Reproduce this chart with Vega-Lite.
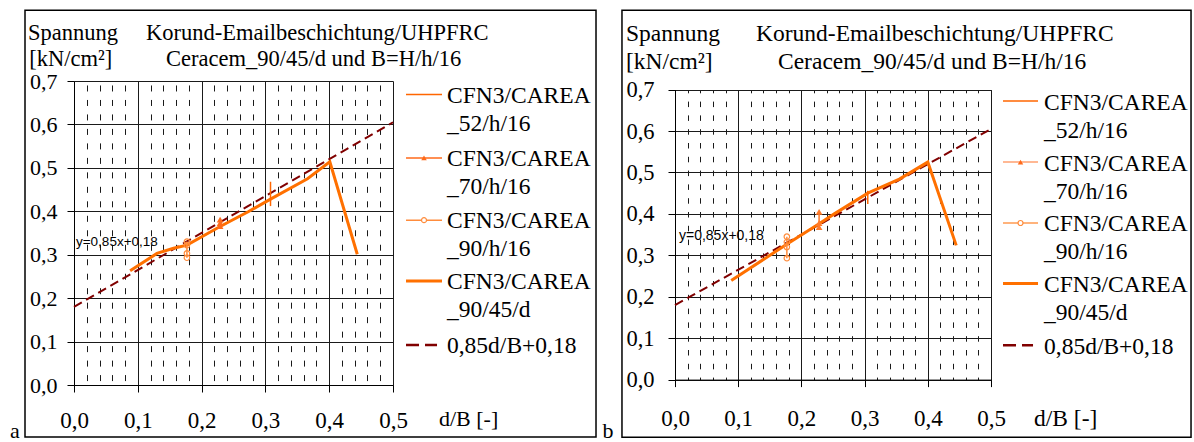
{
  "$schema": "https://vega.github.io/schema/vega-lite/v6.json",
  "background": "white",
  "padding": {"left": 10, "top": 9, "right": 2, "bottom": 0},
  "spacing": 5,
  "config": {
    "view": {"stroke": null},
    "font": "Liberation Serif",
    "style": {"guide-label": {"font": "Liberation Serif"}},
    "axis": {"labelFont": "Liberation Serif", "labelFontSize": 23, "labelColor": "#000", "domainColor": "#000", "domainWidth": 1, "tickColor": "#000", "tickWidth": 1, "tickSize": 7, "gridColor": "#1a1a1a", "gridOpacity": 1, "gridWidth": 1, "labelFlush": false, "labelOverlap": false, "title": null}
  },
  "datasets": {
    "a": [
      {"series": "0,85d/B+0,18", "x": 0, "y": 0.18},
      {"series": "0,85d/B+0,18", "x": 0.5, "y": 0.605},
      {"series": "CFN3/CAREA_90/45/d", "x": 0.088, "y": 0.263},
      {"series": "CFN3/CAREA_90/45/d", "x": 0.13, "y": 0.303},
      {"series": "CFN3/CAREA_90/45/d", "x": 0.156, "y": 0.315},
      {"series": "CFN3/CAREA_90/45/d", "x": 0.177, "y": 0.322},
      {"series": "CFN3/CAREA_90/45/d", "x": 0.229, "y": 0.365},
      {"series": "CFN3/CAREA_90/45/d", "x": 0.273, "y": 0.399},
      {"series": "CFN3/CAREA_90/45/d", "x": 0.308, "y": 0.428},
      {"series": "CFN3/CAREA_90/45/d", "x": 0.366, "y": 0.475},
      {"series": "CFN3/CAREA_90/45/d", "x": 0.401, "y": 0.514},
      {"series": "CFN3/CAREA_90/45/d", "x": 0.444, "y": 0.301},
      {"series": "CFN3/CAREA_52/h/16", "x": 0.308, "y": 0.468},
      {"series": "CFN3/CAREA_52/h/16", "x": 0.308, "y": 0.44},
      {"series": "CFN3/CAREA_52/h/16", "x": 0.308, "y": 0.412},
      {"series": "CFN3/CAREA_70/h/16", "x": 0.229, "y": 0.381},
      {"series": "CFN3/CAREA_70/h/16", "x": 0.229, "y": 0.373},
      {"series": "CFN3/CAREA_70/h/16", "x": 0.229, "y": 0.366},
      {"series": "CFN3/CAREA_90/h/16", "x": 0.177, "y": 0.33},
      {"series": "CFN3/CAREA_90/h/16", "x": 0.177, "y": 0.322},
      {"series": "CFN3/CAREA_90/h/16", "x": 0.177, "y": 0.303},
      {"series": "CFN3/CAREA_90/h/16", "x": 0.177, "y": 0.293}
    ],
    "b": [
      {"series": "0,85d/B+0,18", "x": 0, "y": 0.18},
      {"series": "0,85d/B+0,18", "x": 0.5, "y": 0.605},
      {"series": "CFN3/CAREA_90/45/d", "x": 0.089, "y": 0.239},
      {"series": "CFN3/CAREA_90/45/d", "x": 0.178, "y": 0.328},
      {"series": "CFN3/CAREA_90/45/d", "x": 0.228, "y": 0.376},
      {"series": "CFN3/CAREA_90/45/d", "x": 0.252, "y": 0.4},
      {"series": "CFN3/CAREA_90/45/d", "x": 0.305, "y": 0.45},
      {"series": "CFN3/CAREA_90/45/d", "x": 0.355, "y": 0.484},
      {"series": "CFN3/CAREA_90/45/d", "x": 0.4, "y": 0.525},
      {"series": "CFN3/CAREA_90/45/d", "x": 0.445, "y": 0.324},
      {"series": "CFN3/CAREA_52/h/16", "x": 0.305, "y": 0.456},
      {"series": "CFN3/CAREA_52/h/16", "x": 0.305, "y": 0.44},
      {"series": "CFN3/CAREA_52/h/16", "x": 0.305, "y": 0.424},
      {"series": "CFN3/CAREA_70/h/16", "x": 0.228, "y": 0.405},
      {"series": "CFN3/CAREA_70/h/16", "x": 0.228, "y": 0.378},
      {"series": "CFN3/CAREA_70/h/16", "x": 0.228, "y": 0.368},
      {"series": "CFN3/CAREA_90/h/16", "x": 0.177, "y": 0.345},
      {"series": "CFN3/CAREA_90/h/16", "x": 0.177, "y": 0.332},
      {"series": "CFN3/CAREA_90/h/16", "x": 0.177, "y": 0.32},
      {"series": "CFN3/CAREA_90/h/16", "x": 0.177, "y": 0.293}
    ]
  },
  "hconcat": [
    {
      "width": 319,
      "height": 304,
      "data": {"name": "a"},
      "resolve": {"axis": {"x": "independent", "y": "independent"}},
      "layer": [
        {
          "transform": [{"filter": "datum.series == '0,85d/B+0,18'"}],
          "mark": {"type": "line", "color": "#800000", "strokeWidth": 2, "strokeDash": [9, 5]},
          "encoding": {
            "x": {"field": "x", "type": "quantitative", "scale": {"domain": [0, 0.5], "nice": false, "zero": false},
              "axis": {"orient": "bottom", "title": null, "labelFont": "Liberation Serif", "values": [0,0.02,0.04,0.06,0.08,0.1,0.12,0.14,0.16,0.18,0.2,0.22,0.24,0.26,0.28,0.3,0.32,0.34,0.36,0.38,0.4,0.42,0.44,0.46,0.48,0.5],
                "labelPadding": 28, "labelBaseline": "middle",
                "labelExpr": "abs(datum.value*10-round(datum.value*10))<0.001 ? replace(format(datum.value,'.1f'),'.',',') : ''",
                "gridDash": {"condition": {"test": "abs(datum.value*10-round(datum.value*10))<0.001", "value": []}, "value": [6, 8.48]},
                "gridDashOffset": 10.5,
                "tickOpacity": {"condition": {"test": "abs(datum.value*10-round(datum.value*10))<0.001", "value": 1}, "value": 0}}},
            "y": {"field": "y", "type": "quantitative", "scale": {"domain": [0, 0.7], "nice": false, "zero": false},
              "axis": {"orient": "left", "title": null, "labelFont": "Liberation Serif", "labelFontSize": 22, "values": [0,0.1,0.2,0.3,0.4,0.5,0.6,0.7], "labelPadding": 10, "labelExpr": "replace(format(datum.value,'.1f'),'.',',')"}},
            "order": {"value": null}
          }
        },
        {
          "transform": [{"filter": "datum.series == 'CFN3/CAREA_90/45/d'"}],
          "mark": {"type": "line", "color": "#FF7000", "strokeWidth": 3},
          "encoding": {
            "x": {"field": "x", "type": "quantitative", "scale": {"domain": [0, 0.5], "nice": false, "zero": false}, "axis": null},
            "y": {"field": "y", "type": "quantitative", "scale": {"domain": [0, 0.7], "nice": false, "zero": false}, "axis": null},
            "order": {"value": null}
          }
        },
        {
          "transform": [{"filter": "datum.series == 'CFN3/CAREA_52/h/16'"}],
          "mark": {"type": "line", "color": "#FF6600", "strokeWidth": 1.5},
          "encoding": {
            "x": {"field": "x", "type": "quantitative", "scale": {"domain": [0, 0.5], "nice": false, "zero": false}, "axis": null},
            "y": {"field": "y", "type": "quantitative", "scale": {"domain": [0, 0.7], "nice": false, "zero": false}, "axis": null},
            "order": {"value": null}
          }
        },
        {
          "transform": [{"filter": "datum.series == 'CFN3/CAREA_70/h/16'"}],
          "mark": {"type": "line", "color": "#FF6A1A", "strokeWidth": 1.5, "point": {"shape": "triangle-up", "filled": true, "size": 45, "color": "#FF6A1A"}},
          "encoding": {
            "x": {"field": "x", "type": "quantitative", "scale": {"domain": [0, 0.5], "nice": false, "zero": false}, "axis": null},
            "y": {"field": "y", "type": "quantitative", "scale": {"domain": [0, 0.7], "nice": false, "zero": false}, "axis": null},
            "order": {"value": null}
          }
        },
        {
          "transform": [{"filter": "datum.series == 'CFN3/CAREA_90/h/16'"}],
          "mark": {"type": "line", "color": "#FF8C3C", "strokeWidth": 1.5, "point": {"shape": "circle", "filled": false, "size": 30, "color": "#FF8C3C", "strokeWidth": 1.2}},
          "encoding": {
            "x": {"field": "x", "type": "quantitative", "scale": {"domain": [0, 0.5], "nice": false, "zero": false}, "axis": null},
            "y": {"field": "y", "type": "quantitative", "scale": {"domain": [0, 0.7], "nice": false, "zero": false}, "axis": null},
            "order": {"value": null}
          }
        },
        {
          "data": {"values": [{}]},
          "mark": {"type": "rect", "fillOpacity": 0, "stroke": "#000", "strokeWidth": 1.5},
          "encoding": {
            "x": {"datum": -0.0768, "type": "quantitative", "scale": {"domain": [0, 0.5], "nice": false, "zero": false}, "axis": null},
            "x2": {"datum": 0.8182},
            "y": {"datum": -0.1196, "type": "quantitative", "scale": {"domain": [0, 0.7], "nice": false, "zero": false}, "axis": null},
            "y2": {"datum": 0.8627}
          }
        },
        {
          "data": {"values": [{}]},
          "mark": {"type": "text", "align": "left", "baseline": "alphabetic", "font": "Liberation Sans", "fontSize": 13.5, "color": "#000"},
          "encoding": {
            "x": {"datum": 0.0031, "type": "quantitative", "scale": {"domain": [0, 0.5], "nice": false, "zero": false}, "axis": null},
            "y": {"datum": 0.3198, "type": "quantitative", "scale": {"domain": [0, 0.7], "nice": false, "zero": false}, "axis": null},
            "text": {"value": "y=0,85x+0,18"}
          }
        },
        {
          "data": {"values": [{}]},
          "mark": {"type": "text", "align": "left", "baseline": "alphabetic", "fontSize": 22.5, "color": "#000"},
          "encoding": {
            "x": {"datum": -0.0721, "type": "quantitative", "scale": {"domain": [0, 0.5], "nice": false, "zero": false}, "axis": null},
            "y": {"datum": 0.7937, "type": "quantitative", "scale": {"domain": [0, 0.7], "nice": false, "zero": false}, "axis": null},
            "text": {"value": "Spannung"}
          }
        },
        {
          "data": {"values": [{}]},
          "mark": {"type": "text", "align": "left", "baseline": "alphabetic", "fontSize": 22.5, "color": "#000"},
          "encoding": {
            "x": {"datum": -0.07, "type": "quantitative", "scale": {"domain": [0, 0.5], "nice": false, "zero": false}, "axis": null},
            "y": {"datum": 0.735, "type": "quantitative", "scale": {"domain": [0, 0.7], "nice": false, "zero": false}, "axis": null},
            "text": {"value": "[kN/cm²]"}
          }
        },
        {
          "data": {"values": [{}]},
          "mark": {"type": "text", "align": "left", "baseline": "alphabetic", "fontSize": 22.5, "color": "#000"},
          "encoding": {
            "x": {"datum": 0.1129, "type": "quantitative", "scale": {"domain": [0, 0.5], "nice": false, "zero": false}, "axis": null},
            "y": {"datum": 0.7937, "type": "quantitative", "scale": {"domain": [0, 0.7], "nice": false, "zero": false}, "axis": null},
            "text": {"value": "Korund-Emailbeschichtung/UHPFRC"}
          }
        },
        {
          "data": {"values": [{}]},
          "mark": {"type": "text", "align": "left", "baseline": "alphabetic", "fontSize": 22.5, "color": "#000"},
          "encoding": {
            "x": {"datum": 0.1442, "type": "quantitative", "scale": {"domain": [0, 0.5], "nice": false, "zero": false}, "axis": null},
            "y": {"datum": 0.735, "type": "quantitative", "scale": {"domain": [0, 0.7], "nice": false, "zero": false}, "axis": null},
            "text": {"value": "Ceracem_90/45/d und B=H/h/16"}
          }
        },
        {
          "data": {"values": [{}]},
          "mark": {"type": "text", "align": "left", "baseline": "alphabetic", "fontSize": 22, "color": "#000"},
          "encoding": {
            "x": {"datum": 0.5721, "type": "quantitative", "scale": {"domain": [0, 0.5], "nice": false, "zero": false}, "axis": null},
            "y": {"datum": -0.0955, "type": "quantitative", "scale": {"domain": [0, 0.7], "nice": false, "zero": false}, "axis": null},
            "text": {"value": "d/B [-]"}
          }
        },
        {
          "data": {"values": [{}]},
          "mark": {"type": "text", "align": "center", "baseline": "alphabetic", "fontSize": 22, "color": "#000"},
          "encoding": {
            "x": {"datum": -0.0925, "type": "quantitative", "scale": {"domain": [0, 0.5], "nice": false, "zero": false}, "axis": null},
            "y": {"datum": -0.122, "type": "quantitative", "scale": {"domain": [0, 0.7], "nice": false, "zero": false}, "axis": null},
            "text": {"value": "a"}
          }
        },
        {
          "data": {"values": [{}]},
          "mark": {"type": "rule", "color": "#FF6600", "strokeWidth": 1.5},
          "encoding": {
            "x": {"datum": 0.5204, "type": "quantitative", "scale": {"domain": [0, 0.5], "nice": false, "zero": false}, "axis": null},
            "x2": {"datum": 0.5768},
            "y": {"datum": 0.6687, "type": "quantitative", "scale": {"domain": [0, 0.7], "nice": false, "zero": false}, "axis": null}
          }
        },
        {
          "data": {"values": [{}]},
          "mark": {"type": "rule", "color": "#FF6A1A", "strokeWidth": 1.5},
          "encoding": {
            "x": {"datum": 0.5204, "type": "quantitative", "scale": {"domain": [0, 0.5], "nice": false, "zero": false}, "axis": null},
            "x2": {"datum": 0.5768},
            "y": {"datum": 0.5229, "type": "quantitative", "scale": {"domain": [0, 0.7], "nice": false, "zero": false}, "axis": null}
          }
        },
        {
          "data": {"values": [{}]},
          "mark": {"type": "point", "shape": "triangle-up", "filled": true, "size": 30, "color": "#FF6A1A", "opacity": 1},
          "encoding": {
            "x": {"datum": 0.5486, "type": "quantitative", "scale": {"domain": [0, 0.5], "nice": false, "zero": false}, "axis": null},
            "y": {"datum": 0.5229, "type": "quantitative", "scale": {"domain": [0, 0.7], "nice": false, "zero": false}, "axis": null}
          }
        },
        {
          "data": {"values": [{}]},
          "mark": {"type": "rule", "color": "#FF8C3C", "strokeWidth": 1.5},
          "encoding": {
            "x": {"datum": 0.5204, "type": "quantitative", "scale": {"domain": [0, 0.5], "nice": false, "zero": false}, "axis": null},
            "x2": {"datum": 0.5768},
            "y": {"datum": 0.3796, "type": "quantitative", "scale": {"domain": [0, 0.7], "nice": false, "zero": false}, "axis": null}
          }
        },
        {
          "data": {"values": [{}]},
          "mark": {"type": "point", "shape": "circle", "filled": true, "fill": "#fff", "stroke": "#FF8C3C", "strokeWidth": 1.2, "size": 25, "opacity": 1},
          "encoding": {
            "x": {"datum": 0.5486, "type": "quantitative", "scale": {"domain": [0, 0.5], "nice": false, "zero": false}, "axis": null},
            "y": {"datum": 0.3796, "type": "quantitative", "scale": {"domain": [0, 0.7], "nice": false, "zero": false}, "axis": null}
          }
        },
        {
          "data": {"values": [{}]},
          "mark": {"type": "rule", "color": "#FF7000", "strokeWidth": 3},
          "encoding": {
            "x": {"datum": 0.5204, "type": "quantitative", "scale": {"domain": [0, 0.5], "nice": false, "zero": false}, "axis": null},
            "x2": {"datum": 0.5768},
            "y": {"datum": 0.2392, "type": "quantitative", "scale": {"domain": [0, 0.7], "nice": false, "zero": false}, "axis": null}
          }
        },
        {
          "data": {"values": [{}]},
          "mark": {"type": "rule", "color": "#800000", "strokeWidth": 2.5, "strokeDash": [13, 6]},
          "encoding": {
            "x": {"datum": 0.5204, "type": "quantitative", "scale": {"domain": [0, 0.5], "nice": false, "zero": false}, "axis": null},
            "x2": {"datum": 0.569},
            "y": {"datum": 0.092, "type": "quantitative", "scale": {"domain": [0, 0.7], "nice": false, "zero": false}, "axis": null}
          }
        },
        {
          "data": {"values": [{}]},
          "mark": {"type": "text", "align": "left", "baseline": "alphabetic", "fontSize": 23.5, "lineHeight": 28, "color": "#000"},
          "encoding": {
            "x": {"datum": 0.5846, "type": "quantitative", "scale": {"domain": [0, 0.5], "nice": false, "zero": false}, "axis": null},
            "y": {"datum": 0.6503, "type": "quantitative", "scale": {"domain": [0, 0.7], "nice": false, "zero": false}, "axis": null},
            "text": {"value": ["CFN3/CAREA", "_52/h/16"]}
          }
        },
        {
          "data": {"values": [{}]},
          "mark": {"type": "text", "align": "left", "baseline": "alphabetic", "fontSize": 23.5, "lineHeight": 28, "color": "#000"},
          "encoding": {
            "x": {"datum": 0.5846, "type": "quantitative", "scale": {"domain": [0, 0.5], "nice": false, "zero": false}, "axis": null},
            "y": {"datum": 0.5045, "type": "quantitative", "scale": {"domain": [0, 0.7], "nice": false, "zero": false}, "axis": null},
            "text": {"value": ["CFN3/CAREA", "_70/h/16"]}
          }
        },
        {
          "data": {"values": [{}]},
          "mark": {"type": "text", "align": "left", "baseline": "alphabetic", "fontSize": 23.5, "lineHeight": 28, "color": "#000"},
          "encoding": {
            "x": {"datum": 0.5846, "type": "quantitative", "scale": {"domain": [0, 0.5], "nice": false, "zero": false}, "axis": null},
            "y": {"datum": 0.3612, "type": "quantitative", "scale": {"domain": [0, 0.7], "nice": false, "zero": false}, "axis": null},
            "text": {"value": ["CFN3/CAREA", "_90/h/16"]}
          }
        },
        {
          "data": {"values": [{}]},
          "mark": {"type": "text", "align": "left", "baseline": "alphabetic", "fontSize": 23.5, "lineHeight": 28, "color": "#000"},
          "encoding": {
            "x": {"datum": 0.5846, "type": "quantitative", "scale": {"domain": [0, 0.5], "nice": false, "zero": false}, "axis": null},
            "y": {"datum": 0.2208, "type": "quantitative", "scale": {"domain": [0, 0.7], "nice": false, "zero": false}, "axis": null},
            "text": {"value": ["CFN3/CAREA", "_90/45/d"]}
          }
        },
        {
          "data": {"values": [{}]},
          "mark": {"type": "text", "align": "left", "baseline": "alphabetic", "fontSize": 23.5, "color": "#000"},
          "encoding": {
            "x": {"datum": 0.5846, "type": "quantitative", "scale": {"domain": [0, 0.5], "nice": false, "zero": false}, "axis": null},
            "y": {"datum": 0.0736, "type": "quantitative", "scale": {"domain": [0, 0.7], "nice": false, "zero": false}, "axis": null},
            "text": {"value": "0,85d/B+0,18"}
          }
        }
      ]
    },
    {
      "width": 316,
      "height": 298.6,
      "data": {"name": "b"},
      "resolve": {"axis": {"x": "independent", "y": "independent"}},
      "layer": [
        {
          "transform": [{"filter": "datum.series == '0,85d/B+0,18'"}],
          "mark": {"type": "line", "color": "#800000", "strokeWidth": 2, "strokeDash": [9, 5]},
          "encoding": {
            "x": {"field": "x", "type": "quantitative", "scale": {"domain": [0, 0.5], "nice": false, "zero": false},
              "axis": {"orient": "bottom", "title": null, "grid": false, "labelFont": "Liberation Serif", "values": [0,0.1,0.2,0.3,0.4,0.5],
                "labelPadding": 32, "labelBaseline": "middle",
                "labelExpr": "replace(format(datum.value,'.1f'),'.',',')"}},
            "y": {"field": "y", "type": "quantitative", "scale": {"domain": [0, 0.7], "range": [298.6, 8.6], "nice": false, "zero": false},
              "axis": {"orient": "left", "title": null, "labelFont": "Liberation Serif", "labelFontSize": 22.5, "values": [0,0.1,0.2,0.3,0.4,0.5,0.6,0.7], "labelPadding": 14, "labelExpr": "replace(format(datum.value,'.1f'),'.',',')"}},
            "order": {"value": null}
          }
        },
        {
          "transform": [{"filter": "datum.series == 'CFN3/CAREA_90/45/d'"}],
          "mark": {"type": "line", "color": "#FF7000", "strokeWidth": 3},
          "encoding": {
            "x": {"field": "x", "type": "quantitative", "scale": {"domain": [0, 0.5], "nice": false, "zero": false},
              "axis": {"orient": "top", "title": null, "grid": true, "labels": false, "ticks": false, "domain": false,
                "values": [0,0.02,0.04,0.06,0.08,0.1,0.12,0.14,0.16,0.18,0.2,0.22,0.24,0.26,0.28,0.3,0.32,0.34,0.36,0.38,0.4,0.42,0.44,0.46,0.48,0.5],
                "gridDash": {"condition": {"test": "abs(datum.value*10-round(datum.value*10))<0.001", "value": []}, "value": [5.5, 8.3]},
                "gridDashOffset": 3}},
            "y": {"field": "y", "type": "quantitative", "scale": {"domain": [0, 0.7], "range": [298.6, 8.6], "nice": false, "zero": false}, "axis": null},
            "order": {"value": null}
          }
        },
        {
          "transform": [{"filter": "datum.series == 'CFN3/CAREA_52/h/16'"}],
          "mark": {"type": "line", "color": "#FF6600", "strokeWidth": 1.5},
          "encoding": {
            "x": {"field": "x", "type": "quantitative", "scale": {"domain": [0, 0.5], "nice": false, "zero": false}, "axis": null},
            "y": {"field": "y", "type": "quantitative", "scale": {"domain": [0, 0.7], "range": [298.6, 8.6], "nice": false, "zero": false}, "axis": null},
            "order": {"value": null}
          }
        },
        {
          "transform": [{"filter": "datum.series == 'CFN3/CAREA_70/h/16'"}],
          "mark": {"type": "line", "color": "#FF7A2A", "strokeWidth": 1.5, "point": {"shape": "triangle-up", "filled": true, "size": 45, "color": "#FF7A2A"}},
          "encoding": {
            "x": {"field": "x", "type": "quantitative", "scale": {"domain": [0, 0.5], "nice": false, "zero": false}, "axis": null},
            "y": {"field": "y", "type": "quantitative", "scale": {"domain": [0, 0.7], "range": [298.6, 8.6], "nice": false, "zero": false}, "axis": null},
            "order": {"value": null}
          }
        },
        {
          "transform": [{"filter": "datum.series == 'CFN3/CAREA_90/h/16'"}],
          "mark": {"type": "line", "color": "#FF8C3C", "strokeWidth": 1.5, "point": {"shape": "circle", "filled": false, "size": 30, "color": "#FF8C3C", "strokeWidth": 1.2}},
          "encoding": {
            "x": {"field": "x", "type": "quantitative", "scale": {"domain": [0, 0.5], "nice": false, "zero": false}, "axis": null},
            "y": {"field": "y", "type": "quantitative", "scale": {"domain": [0, 0.7], "range": [298.6, 8.6], "nice": false, "zero": false}, "axis": null},
            "order": {"value": null}
          }
        },
        {
          "data": {"values": [{}]},
          "mark": {"type": "rect", "fillOpacity": 0, "stroke": "#000", "strokeWidth": 1.5},
          "encoding": {
            "x": {"datum": -0.0839, "type": "quantitative", "scale": {"domain": [0, 0.5], "nice": false, "zero": false}, "axis": null},
            "x2": {"datum": 0.8165},
            "y": {"datum": -0.1393, "type": "quantitative", "scale": {"domain": [0, 0.7], "range": [298.6, 8.6], "nice": false, "zero": false}, "axis": null},
            "y2": {"datum": 0.8914}
          }
        },
        {
          "data": {"values": [{}]},
          "mark": {"type": "text", "align": "left", "baseline": "alphabetic", "font": "Liberation Sans", "fontSize": 14, "color": "#000"},
          "encoding": {
            "x": {"datum": 0.0063, "type": "quantitative", "scale": {"domain": [0, 0.5], "nice": false, "zero": false}, "axis": null},
            "y": {"datum": 0.338, "type": "quantitative", "scale": {"domain": [0, 0.7], "range": [298.6, 8.6], "nice": false, "zero": false}, "axis": null},
            "text": {"value": "y=0,85x+0,18"}
          }
        },
        {
          "data": {"values": [{}]},
          "mark": {"type": "text", "align": "left", "baseline": "alphabetic", "fontSize": 23.5, "color": "#000"},
          "encoding": {
            "x": {"datum": -0.0775, "type": "quantitative", "scale": {"domain": [0, 0.5], "nice": false, "zero": false}, "axis": null},
            "y": {"datum": 0.8178, "type": "quantitative", "scale": {"domain": [0, 0.7], "range": [298.6, 8.6], "nice": false, "zero": false}, "axis": null},
            "text": {"value": "Spannung"}
          }
        },
        {
          "data": {"values": [{}]},
          "mark": {"type": "text", "align": "left", "baseline": "alphabetic", "fontSize": 23.5, "color": "#000"},
          "encoding": {
            "x": {"datum": -0.0775, "type": "quantitative", "scale": {"domain": [0, 0.5], "nice": false, "zero": false}, "axis": null},
            "y": {"datum": 0.7507, "type": "quantitative", "scale": {"domain": [0, 0.7], "range": [298.6, 8.6], "nice": false, "zero": false}, "axis": null},
            "text": {"value": "[kN/cm²]"}
          }
        },
        {
          "data": {"values": [{}]},
          "mark": {"type": "text", "align": "left", "baseline": "alphabetic", "fontSize": 23.5, "color": "#000"},
          "encoding": {
            "x": {"datum": 0.1282, "type": "quantitative", "scale": {"domain": [0, 0.5], "nice": false, "zero": false}, "axis": null},
            "y": {"datum": 0.8178, "type": "quantitative", "scale": {"domain": [0, 0.7], "range": [298.6, 8.6], "nice": false, "zero": false}, "axis": null},
            "text": {"value": "Korund-Emailbeschichtung/UHPFRC"}
          }
        },
        {
          "data": {"values": [{}]},
          "mark": {"type": "text", "align": "left", "baseline": "alphabetic", "fontSize": 23.5, "color": "#000"},
          "encoding": {
            "x": {"datum": 0.163, "type": "quantitative", "scale": {"domain": [0, 0.5], "nice": false, "zero": false}, "axis": null},
            "y": {"datum": 0.7507, "type": "quantitative", "scale": {"domain": [0, 0.7], "range": [298.6, 8.6], "nice": false, "zero": false}, "axis": null},
            "text": {"value": "Ceracem_90/45/d und B=H/h/16"}
          }
        },
        {
          "data": {"values": [{}]},
          "mark": {"type": "text", "align": "left", "baseline": "alphabetic", "fontSize": 23.5, "color": "#000"},
          "encoding": {
            "x": {"datum": 0.568, "type": "quantitative", "scale": {"domain": [0, 0.5], "nice": false, "zero": false}, "axis": null},
            "y": {"datum": -0.1127, "type": "quantitative", "scale": {"domain": [0, 0.7], "range": [298.6, 8.6], "nice": false, "zero": false}, "axis": null},
            "text": {"value": "d/B [-]"}
          }
        },
        {
          "data": {"values": [{}]},
          "mark": {"type": "text", "align": "center", "baseline": "alphabetic", "fontSize": 22, "color": "#000"},
          "encoding": {
            "x": {"datum": -0.106, "type": "quantitative", "scale": {"domain": [0, 0.5], "nice": false, "zero": false}, "axis": null},
            "y": {"datum": -0.1417, "type": "quantitative", "scale": {"domain": [0, 0.7], "range": [298.6, 8.6], "nice": false, "zero": false}, "axis": null},
            "text": {"value": "b"}
          }
        },
        {
          "data": {"values": [{}]},
          "mark": {"type": "rule", "color": "#FF6600", "strokeWidth": 1.5},
          "encoding": {
            "x": {"datum": 0.519, "type": "quantitative", "scale": {"domain": [0, 0.5], "nice": false, "zero": false}, "axis": null},
            "x2": {"datum": 0.5744},
            "y": {"datum": 0.6725, "type": "quantitative", "scale": {"domain": [0, 0.7], "range": [298.6, 8.6], "nice": false, "zero": false}, "axis": null}
          }
        },
        {
          "data": {"values": [{}]},
          "mark": {"type": "rule", "color": "#FFA070", "strokeWidth": 1.5},
          "encoding": {
            "x": {"datum": 0.519, "type": "quantitative", "scale": {"domain": [0, 0.5], "nice": false, "zero": false}, "axis": null},
            "x2": {"datum": 0.5744},
            "y": {"datum": 0.5252, "type": "quantitative", "scale": {"domain": [0, 0.7], "range": [298.6, 8.6], "nice": false, "zero": false}, "axis": null}
          }
        },
        {
          "data": {"values": [{}]},
          "mark": {"type": "point", "shape": "triangle-up", "filled": true, "size": 30, "color": "#FF6A1A", "opacity": 1},
          "encoding": {
            "x": {"datum": 0.5467, "type": "quantitative", "scale": {"domain": [0, 0.5], "nice": false, "zero": false}, "axis": null},
            "y": {"datum": 0.5252, "type": "quantitative", "scale": {"domain": [0, 0.7], "range": [298.6, 8.6], "nice": false, "zero": false}, "axis": null}
          }
        },
        {
          "data": {"values": [{}]},
          "mark": {"type": "rule", "color": "#FF9A50", "strokeWidth": 1.5},
          "encoding": {
            "x": {"datum": 0.519, "type": "quantitative", "scale": {"domain": [0, 0.5], "nice": false, "zero": false}, "axis": null},
            "x2": {"datum": 0.5744},
            "y": {"datum": 0.378, "type": "quantitative", "scale": {"domain": [0, 0.7], "range": [298.6, 8.6], "nice": false, "zero": false}, "axis": null}
          }
        },
        {
          "data": {"values": [{}]},
          "mark": {"type": "point", "shape": "circle", "filled": true, "fill": "#fff", "stroke": "#FF8C3C", "strokeWidth": 1.2, "size": 25, "opacity": 1},
          "encoding": {
            "x": {"datum": 0.5467, "type": "quantitative", "scale": {"domain": [0, 0.5], "nice": false, "zero": false}, "axis": null},
            "y": {"datum": 0.378, "type": "quantitative", "scale": {"domain": [0, 0.7], "range": [298.6, 8.6], "nice": false, "zero": false}, "axis": null}
          }
        },
        {
          "data": {"values": [{}]},
          "mark": {"type": "rule", "color": "#FF7000", "strokeWidth": 3},
          "encoding": {
            "x": {"datum": 0.519, "type": "quantitative", "scale": {"domain": [0, 0.5], "nice": false, "zero": false}, "axis": null},
            "x2": {"datum": 0.5744},
            "y": {"datum": 0.2317, "type": "quantitative", "scale": {"domain": [0, 0.7], "range": [298.6, 8.6], "nice": false, "zero": false}, "axis": null}
          }
        },
        {
          "data": {"values": [{}]},
          "mark": {"type": "rule", "color": "#800000", "strokeWidth": 2.5, "strokeDash": [13, 6]},
          "encoding": {
            "x": {"datum": 0.519, "type": "quantitative", "scale": {"domain": [0, 0.5], "nice": false, "zero": false}, "axis": null},
            "x2": {"datum": 0.5665},
            "y": {"datum": 0.0828, "type": "quantitative", "scale": {"domain": [0, 0.7], "range": [298.6, 8.6], "nice": false, "zero": false}, "axis": null}
          }
        },
        {
          "data": {"values": [{}]},
          "mark": {"type": "text", "align": "left", "baseline": "alphabetic", "fontSize": 23.5, "lineHeight": 28, "color": "#000"},
          "encoding": {
            "x": {"datum": 0.5839, "type": "quantitative", "scale": {"domain": [0, 0.5], "nice": false, "zero": false}, "axis": null},
            "y": {"datum": 0.6519, "type": "quantitative", "scale": {"domain": [0, 0.7], "range": [298.6, 8.6], "nice": false, "zero": false}, "axis": null},
            "text": {"value": ["CFN3/CAREA", "_52/h/16"]}
          }
        },
        {
          "data": {"values": [{}]},
          "mark": {"type": "text", "align": "left", "baseline": "alphabetic", "fontSize": 23.5, "lineHeight": 28, "color": "#000"},
          "encoding": {
            "x": {"datum": 0.5839, "type": "quantitative", "scale": {"domain": [0, 0.5], "nice": false, "zero": false}, "axis": null},
            "y": {"datum": 0.5047, "type": "quantitative", "scale": {"domain": [0, 0.7], "range": [298.6, 8.6], "nice": false, "zero": false}, "axis": null},
            "text": {"value": ["CFN3/CAREA", "_70/h/16"]}
          }
        },
        {
          "data": {"values": [{}]},
          "mark": {"type": "text", "align": "left", "baseline": "alphabetic", "fontSize": 23.5, "lineHeight": 28, "color": "#000"},
          "encoding": {
            "x": {"datum": 0.5839, "type": "quantitative", "scale": {"domain": [0, 0.5], "nice": false, "zero": false}, "axis": null},
            "y": {"datum": 0.3575, "type": "quantitative", "scale": {"domain": [0, 0.7], "range": [298.6, 8.6], "nice": false, "zero": false}, "axis": null},
            "text": {"value": ["CFN3/CAREA", "_90/h/16"]}
          }
        },
        {
          "data": {"values": [{}]},
          "mark": {"type": "text", "align": "left", "baseline": "alphabetic", "fontSize": 23.5, "lineHeight": 28, "color": "#000"},
          "encoding": {
            "x": {"datum": 0.5839, "type": "quantitative", "scale": {"domain": [0, 0.5], "nice": false, "zero": false}, "axis": null},
            "y": {"datum": 0.2112, "type": "quantitative", "scale": {"domain": [0, 0.7], "range": [298.6, 8.6], "nice": false, "zero": false}, "axis": null},
            "text": {"value": ["CFN3/CAREA", "_90/45/d"]}
          }
        },
        {
          "data": {"values": [{}]},
          "mark": {"type": "text", "align": "left", "baseline": "alphabetic", "fontSize": 23.5, "color": "#000"},
          "encoding": {
            "x": {"datum": 0.5839, "type": "quantitative", "scale": {"domain": [0, 0.5], "nice": false, "zero": false}, "axis": null},
            "y": {"datum": 0.0623, "type": "quantitative", "scale": {"domain": [0, 0.7], "range": [298.6, 8.6], "nice": false, "zero": false}, "axis": null},
            "text": {"value": "0,85d/B+0,18"}
          }
        }
      ]
    }
  ]
}
